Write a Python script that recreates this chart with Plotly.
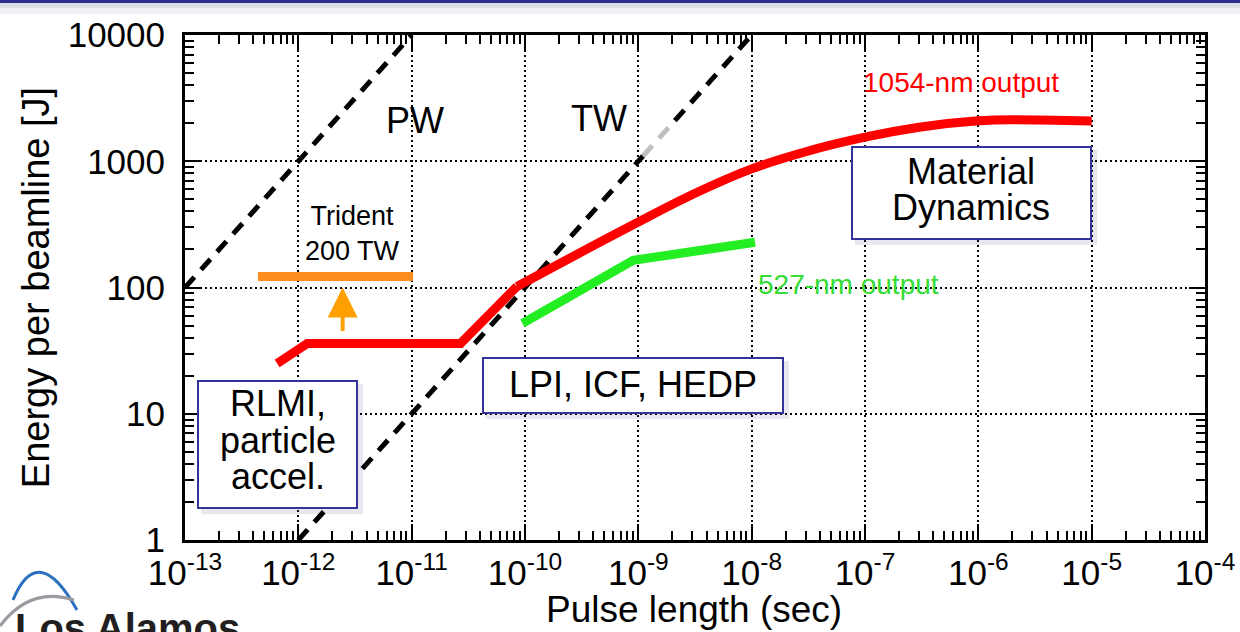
import plotly.graph_objects as go
import math

# ---------------- data ----------------
# 1054-nm output: low-energy kinked part and smooth upper part
red_low_x = [6.5e-13, 1.2e-12, 2.7e-11, 8.5e-11]
red_low_y = [25, 36, 36, 102]
red_high_x = [8.5e-11, 3e-10, 1e-9, 3e-9, 1e-8, 3e-8, 1e-7, 3e-7, 1e-6, 2e-6, 1e-5]
red_high_y = [102, 187, 330, 545, 870, 1190, 1550, 1860, 2090, 2130, 2080]

green_x = [9.5e-11, 9e-10, 1.07e-8]
green_y = [52, 164, 228]

pw_x = [1e-13, 1e-11]
pw_y = [100, 10000]

tw1_x = [1e-12, 1.1e-9]
tw1_y = [1, 1100]
tw_gray_x = [1.1e-9, 2.1e-9]
tw_gray_y = [1100, 2100]
tw2_x = [2.1e-9, 1e-8]
tw2_y = [2100, 10000]

trident_x = [4.4e-13, 1.03e-11]
trident_y = [122, 122]

arrow_x = 2.46e-12
arrow_tail_y = 44
arrow_head_y = 100

x_tickvals = [1e-13, 1e-12, 1e-11, 1e-10, 1e-9, 1e-8, 1e-7, 1e-6, 1e-5, 1e-4]
x_ticktext = ["10<sup>-13</sup>", "10<sup>-12</sup>", "10<sup>-11</sup>", "10<sup>-10</sup>",
              "10<sup>-9</sup>", "10<sup>-8</sup>", "10<sup>-7</sup>", "10<sup>-6</sup>",
              "10<sup>-5</sup>", "10<sup>-4</sup>"]
y_tickvals = [1, 10, 100, 1000, 10000]
y_ticktext = ["1", "10", "100", "1000", "10000"]

FONT = "Liberation Sans, Arial, sans-serif"

# plot area geometry (pixels)
L, R, T, B = 185, 1205, 35, 540


def PX(px):
    return (px - L) / (R - L)


def PY(py):
    return (B - py) / (B - T)


fig = go.Figure()

DASH = dict(width=5, dash="14px,10px")
fig.add_trace(go.Scatter(x=pw_x, y=pw_y, mode="lines", line=dict(color="black", **DASH)))
fig.add_trace(go.Scatter(x=tw1_x, y=tw1_y, mode="lines", line=dict(color="black", **DASH)))
fig.add_trace(go.Scatter(x=tw_gray_x, y=tw_gray_y, mode="lines", line=dict(color="#c0c0c0", **DASH)))
fig.add_trace(go.Scatter(x=tw2_x, y=tw2_y, mode="lines", line=dict(color="black", **DASH)))
fig.add_trace(go.Scatter(x=trident_x, y=trident_y, mode="lines",
                         line=dict(color="#ff8c1e", width=9)))
fig.add_trace(go.Scatter(x=green_x, y=green_y, mode="lines",
                         line=dict(color="#22ee22", width=9)))
fig.add_trace(go.Scatter(x=red_low_x, y=red_low_y, mode="lines",
                         line=dict(color="#ff0000", width=9)))
fig.add_trace(go.Scatter(x=red_high_x, y=red_high_y, mode="lines",
                         line=dict(color="#ff0000", width=9, shape="spline", smoothing=0.9)))

shapes = []
# slide header bar
shapes.append(dict(type="rect", xref="paper", yref="paper", x0=PX(0), x1=PX(1240), y0=PY(3), y1=PY(0),
                   fillcolor="#2e2e8f", line=dict(width=0), layer="above"))
shapes.append(dict(type="rect", xref="paper", yref="paper", x0=PX(0), x1=PX(1240), y0=PY(8), y1=PY(3),
                   fillcolor="#dedee8", line=dict(width=0), layer="above"))
shapes.append(dict(type="rect", xref="paper", yref="paper", x0=PX(0), x1=PX(1240), y0=PY(14), y1=PY(8),
                   fillcolor="#f0f0f5", line=dict(width=0), layer="above"))

boxes = [(198, 381, 357, 508), (483, 358, 783, 413), (852, 147, 1091, 239)]
for (x0, y0, x1, y1) in boxes:
    shapes.append(dict(type="rect", xref="paper", yref="paper",
                       x0=PX(x0 + 3), x1=PX(x1 + 6), y0=PY(y1 + 6), y1=PY(y0 + 3),
                       fillcolor="rgba(60,60,110,0.12)", line=dict(width=0), layer="above"))
    shapes.append(dict(type="rect", xref="paper", yref="paper",
                       x0=PX(x0), x1=PX(x1), y0=PY(y1), y1=PY(y0),
                       fillcolor="white", line=dict(color="#333399", width=2), layer="above"))


# logo arcs (approximate)
def path_px(pts):
    s = "M %f,%f" % (PX(pts[0][0]), PY(pts[0][1]))
    s += " Q %f,%f %f,%f" % (PX(pts[1][0]), PY(pts[1][1]), PX(pts[2][0]), PY(pts[2][1]))
    return s


shapes.append(dict(type="path", xref="paper", yref="paper", path=path_px([(13, 600), (38, 540), (77, 610)]),
                   line=dict(color="#2a6fc0", width=3), layer="above"))
shapes.append(dict(type="path", xref="paper", yref="paper", path=path_px([(0, 626), (30, 586), (74, 600)]),
                   line=dict(color="#9a9aa0", width=3), layer="above"))

annotations = []


def txt(text, cx, cy, size, color="black", xanchor="center"):
    annotations.append(dict(text=text, x=PX(cx), y=PY(cy), xref="paper", yref="paper",
                            showarrow=False, xanchor=xanchor, yanchor="middle",
                            font=dict(family=FONT, size=size, color=color)))


txt("RLMI,", 278, 403, 36)
txt("particle", 278, 440, 36)
txt("accel.", 278, 476, 36)
txt("LPI, ICF, HEDP", 633, 384, 36)
txt("Material", 971, 171, 36)
txt("Dynamics", 971, 208, 36)
txt("PW", 415, 120, 36)
txt("TW", 599, 118, 36)
txt("Trident<br>200 TW", 352, 233, 27)
txt("1054-nm output", 961, 83, 28, color="#ff0000")
txt("527-nm output", 848, 284, 28, color="#33dd33")
# x axis title
txt("Pulse length (sec)", 694, 609, 37)

annotations.append(dict(text="<b>Los Alamos</b>", x=PX(13), y=PY(604), xref="paper", yref="paper",
                        showarrow=False, xanchor="left", yanchor="top",
                        font=dict(family=FONT, size=40, color="#231f20")))

# orange arrow
annotations.append(dict(x=math.log10(arrow_x), y=math.log10(arrow_head_y),
                        ax=math.log10(arrow_x), ay=math.log10(arrow_tail_y),
                        xref="x", yref="y", axref="x", ayref="y", text="",
                        showarrow=True, arrowhead=2, arrowsize=1.5, arrowwidth=4,
                        arrowcolor="#ff9f00"))

axis_common = dict(
    type="log",
    showline=True, linecolor="black", linewidth=3, mirror="allticks",
    ticks="inside", ticklen=16, tickwidth=2, tickcolor="black",
    showgrid=True, gridcolor="black", gridwidth=2, griddash="2px,3px",
    zeroline=False,
    tickfont=dict(family=FONT, size=35, color="black"),
    minor=dict(ticks="inside", ticklen=9, tickwidth=2, tickcolor="black", dtick="D1", showgrid=False),
)

fig.update_xaxes(range=[-13, -4], tickmode="array", tickvals=x_tickvals, ticktext=x_ticktext,
                 **axis_common)
fig.update_yaxes(range=[0, 4], tickmode="array", tickvals=y_tickvals, ticktext=y_ticktext,
                 ticklabelstandoff=10,
                 title=dict(text="Energy per beamline [J]", font=dict(family=FONT, size=38, color="black"), standoff=7),
                 **axis_common)

fig.update_layout(
    width=1240, height=632,
    margin=dict(l=L, r=1240 - R, t=T, b=632 - B, autoexpand=False),
    paper_bgcolor="white", plot_bgcolor="white",
    showlegend=False,
    shapes=shapes, annotations=annotations,
    font=dict(family=FONT),
)

fig.write_html("out.html")
